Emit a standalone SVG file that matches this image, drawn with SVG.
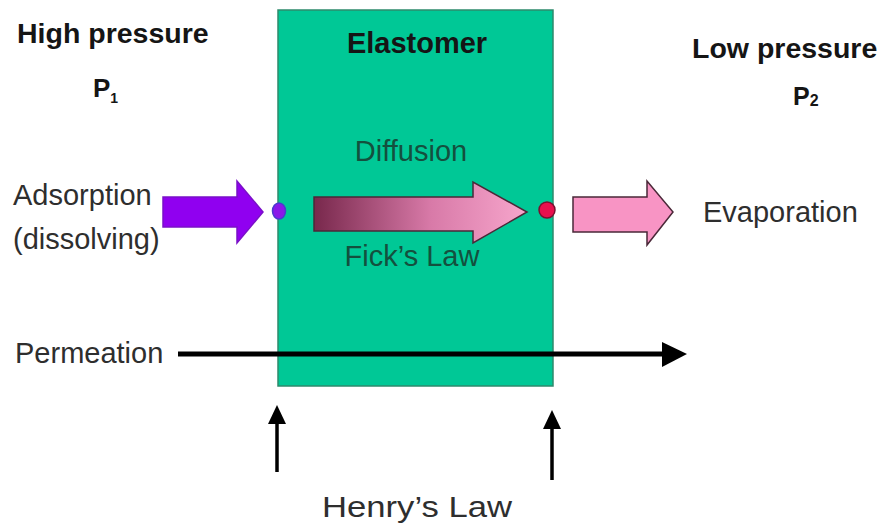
<svg xmlns="http://www.w3.org/2000/svg" width="885" height="527" viewBox="0 0 885 527">
<style>
.b{font-family:"Liberation Sans",Arial,sans-serif;font-weight:bold;fill:#151515}
.t{font-family:"Liberation Sans",Arial,sans-serif;fill:#2e2e2e;font-size:29px}
.g{font-family:"Liberation Sans",Arial,sans-serif;fill:#14503e;font-size:29px}
.ln{stroke:#000;fill:none}
</style>
<defs>
<linearGradient id="grad" x1="0" y1="0" x2="1" y2="0">
<stop offset="0" stop-color="#78284c"/>
<stop offset="0.55" stop-color="#d87aa8"/>
<stop offset="1" stop-color="#f7a6cc"/>
</linearGradient>
</defs>
<rect width="885" height="527" fill="#fff"/>
<g id="elastomer">
<rect x="278" y="10" width="275" height="376" fill="#00c896" stroke="#2e8a6c" stroke-width="1.5"/>
<text class="b" x="417" y="53" font-size="29" text-anchor="middle">Elastomer</text>
</g>
<g id="high-pressure">
<text class="b" x="17" y="43" font-size="28.5">High pressure</text>
<text class="b" x="93" y="97" font-size="26">P<tspan font-size="14" dy="6">1</tspan></text>
</g>
<g id="low-pressure">
<text class="b" x="692" y="58" font-size="28.5">Low pressure</text>
<text class="b" x="793" y="105" font-size="25">P<tspan font-size="16" dy="1">2</tspan></text>
</g>
<g id="adsorption">
<text class="t" x="13" y="205">Adsorption</text>
<text class="t" x="13" y="249">(dissolving)</text>
</g>
<g id="diffusion">
<text class="g" x="411" y="161" text-anchor="middle">Diffusion</text>
<text class="g" x="412" y="266" text-anchor="middle">Fick’s Law</text>
</g>
<g id="evaporation">
<text class="t" x="703" y="222">Evaporation</text>
</g>
<g id="permeation">
<text class="t" x="15" y="363">Permeation</text>
</g>
<g id="henry">
<text class="t" x="322" y="517" font-size="35" textLength="190" lengthAdjust="spacingAndGlyphs">Henry’s Law</text>
</g>
<g id="dot-in">
<ellipse cx="279" cy="211" rx="6.5" ry="8" fill="#8a18e8" stroke="#4a3ad0" stroke-width="1.5"/>
</g>
<g id="dot-out">
<circle cx="547" cy="210" r="8" fill="#e8104e" stroke="#7a1030" stroke-width="1.5"/>
</g>
<g id="connectors">
<path d="M163,197 L237,197 L237,181 L263,212 L237,243 L237,227 L163,227 z" fill="#9000f0" stroke="#7a10c8" stroke-width="1.5"/>
<path d="M314,197 L473,197 L473,182 L527,212 L473,243 L473,231 L314,231 z" fill="url(#grad)" stroke="#4a2838" stroke-width="1.5"/>
<path d="M573,197 L647,197 L647,181 L673,212 L647,245 L647,232 L573,232 z" fill="#f894c4" stroke="#4a2838" stroke-width="1.5"/>
<line x1="178" y1="354" x2="664" y2="354" class="ln" stroke-width="5"/>
<path d="M662,342 L687,354 L662,367 z" fill="#000"/>
<line x1="277" y1="472" x2="277" y2="420" class="ln" stroke-width="3.5"/>
<path d="M268,424 L277,405 L286,424 z" fill="#000"/>
<line x1="552" y1="480" x2="552" y2="426" class="ln" stroke-width="3.5"/>
<path d="M543,429 L552,410 L561,429 z" fill="#000"/>
</g>
</svg>
